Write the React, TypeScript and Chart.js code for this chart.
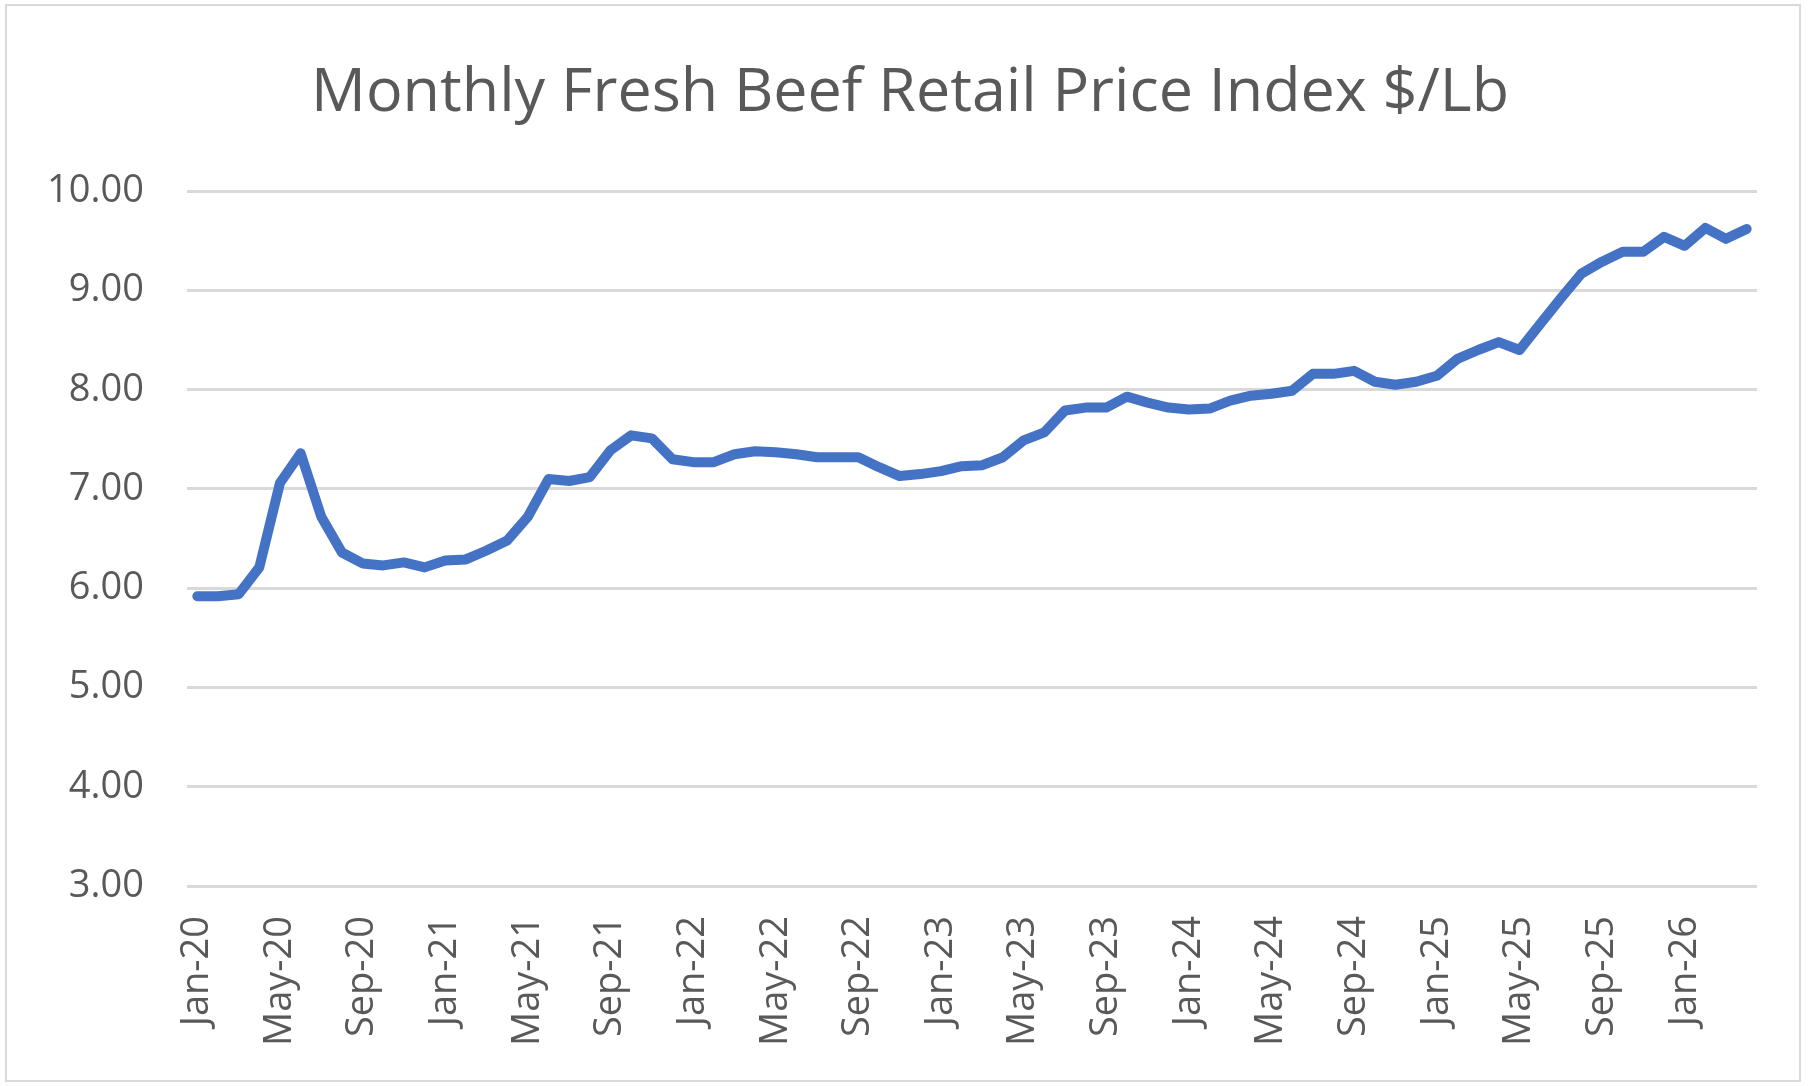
import React, { useEffect, useRef } from "react";
import { Chart, registerables } from "chart.js";

Chart.register(...registerables);

const TITLE = "Monthly Fresh Beef Retail Price Index $/Lb";

const CATEGORIES: string[] = [
  "Jan-20", "Feb-20", "Mar-20", "Apr-20", "May-20", "Jun-20", "Jul-20", "Aug-20", "Sep-20", "Oct-20", "Nov-20", "Dec-20",
  "Jan-21", "Feb-21", "Mar-21", "Apr-21", "May-21", "Jun-21", "Jul-21", "Aug-21", "Sep-21", "Oct-21", "Nov-21", "Dec-21",
  "Jan-22", "Feb-22", "Mar-22", "Apr-22", "May-22", "Jun-22", "Jul-22", "Aug-22", "Sep-22", "Oct-22", "Nov-22", "Dec-22",
  "Jan-23", "Feb-23", "Mar-23", "Apr-23", "May-23", "Jun-23", "Jul-23", "Aug-23", "Sep-23", "Oct-23", "Nov-23", "Dec-23",
  "Jan-24", "Feb-24", "Mar-24", "Apr-24", "May-24", "Jun-24", "Jul-24", "Aug-24", "Sep-24", "Oct-24", "Nov-24", "Dec-24",
  "Jan-25", "Feb-25", "Mar-25", "Apr-25", "May-25", "Jun-25", "Jul-25", "Aug-25", "Sep-25", "Oct-25", "Nov-25", "Dec-25",
  "Jan-26", "Feb-26", "Mar-26", "Apr-26",
];

const PRICE: number[] = [
  5.92, 5.92, 5.94, 6.21, 7.06, 7.36, 6.72, 6.36, 6.25, 6.23, 6.26, 6.21,
  6.28, 6.29, 6.38, 6.48, 6.72, 7.10, 7.08, 7.12, 7.39, 7.54, 7.51, 7.30,
  7.27, 7.27, 7.35, 7.38, 7.37, 7.35, 7.32, 7.32, 7.32, 7.22, 7.13, 7.15,
  7.18, 7.23, 7.24, 7.32, 7.49, 7.57, 7.79, 7.82, 7.82, 7.93, 7.87, 7.82,
  7.80, 7.81, 7.89, 7.94, 7.96, 7.99, 8.16, 8.16, 8.19, 8.08, 8.05, 8.08,
  8.14, 8.31, 8.40, 8.48, 8.40, 8.66, 8.92, 9.17, 9.29, 9.39, 9.39, 9.54,
  9.45, 9.63, 9.52, 9.62,
];

const Y_MIN = 3;
const Y_MAX = 10;
const Y_STEP = 1;
const LABEL_EVERY = 4;

const TEXT_COLOR = "#595959";
const GRID_COLOR = "#d9d9d9";
const LINE_COLOR = "#4472C4";
const FONT = "'Open Sans', 'Noto Sans', sans-serif";

export default function App() {
  const canvasRef = useRef<HTMLCanvasElement | null>(null);

  useEffect(() => {
    const canvas = canvasRef.current;
    if (!canvas) return;
    const chart = new Chart(canvas, {
      type: "line",
      data: {
        labels: CATEGORIES,
        datasets: [
          {
            label: "Price",
            data: PRICE,
            borderColor: LINE_COLOR,
            backgroundColor: LINE_COLOR,
            borderWidth: 10,
            pointRadius: 0,
            tension: 0,
            borderJoinStyle: "round",
            borderCapStyle: "round",
            fill: false,
          },
        ],
      },
      options: {
        animation: false,
        responsive: false,
        maintainAspectRatio: false,
        layout: { padding: { top: 0, left: 10, right: 0, bottom: 0 } },
        plugins: {
          legend: { display: false },
          tooltip: { enabled: false },
          title: {
            display: true,
            text: TITLE,
            color: TEXT_COLOR,
            font: { family: FONT, size: 61, weight: "normal", lineHeight: 1.2 },
            padding: { top: 57, bottom: 61 },
          },
        },
        scales: {
          x: {
            type: "category",
            offset: true,
            grid: { display: false, drawTicks: false },
            border: { display: false },
            afterFit: (scale: any) => {
              scale.height = 200;
              scale.paddingLeft = 0;
              scale.paddingRight = 53;
            },
            ticks: {
              autoSkip: false,
              maxRotation: 90,
              minRotation: 90,
              padding: 30,
              color: TEXT_COLOR,
              font: { family: FONT, size: 38 },
              callback: (_v: any, idx: number) => (idx % LABEL_EVERY === 0 ? CATEGORIES[idx] : ""),
            },
          },
          y: {
            min: Y_MIN,
            max: Y_MAX,
            grid: { color: GRID_COLOR, lineWidth: 3, drawTicks: false },
            border: { display: false },
            afterFit: (scale: any) => {
              scale.width = 177;
            },
            ticks: {
              stepSize: Y_STEP,
              padding: 43,
              color: TEXT_COLOR,
              font: { family: FONT, size: 38 },
              callback: (v: any) => Number(v).toFixed(2),
            },
          },
        },
      },
    });
    return () => chart.destroy();
  }, []);

  return (
    <div style={{ position: "fixed", left: 0, top: 0, width: 1810, height: 1086, background: "#fff" }}>
      <div
        style={{
          position: "absolute",
          left: 5,
          top: 4,
          width: 1796,
          height: 1078,
          border: "2px solid #d9d9d9",
          boxSizing: "border-box",
        }}
      />
      <canvas ref={canvasRef} width={1810} height={1086} style={{ position: "absolute", left: 0, top: 0 }} />
    </div>
  );
}
